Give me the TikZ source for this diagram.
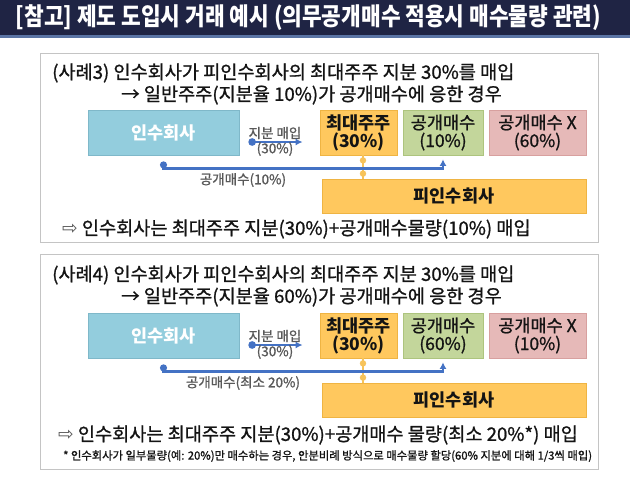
\documentclass[tikz,border=0pt]{standalone}
\usepackage{fontspec}
\setmainfont{Noto Sans CJK KR}
\newfontfamily\medfont{Noto Sans CJK KR}[FakeBold=1.0]
\newfontfamily\symfont{DejaVu Sans}
\usetikzlibrary{arrows.meta}
\definecolor{navy}{HTML}{1F2444}
\definecolor{navyline}{HTML}{5A74A4}
\definecolor{panelline}{HTML}{C4C4C4}
\definecolor{bluefill}{HTML}{93CDDD}
\definecolor{blueedge}{HTML}{7FB8C9}
\definecolor{orfill}{HTML}{FFC85E}
\definecolor{oredge}{HTML}{EFB443}
\definecolor{grfill}{HTML}{C3D69B}
\definecolor{gredge}{HTML}{ADC47E}
\definecolor{pkfill}{HTML}{E6B9B8}
\definecolor{pkedge}{HTML}{D8A09F}
\definecolor{lineblue}{HTML}{4472C4}
\definecolor{lineor}{HTML}{F7C35A}
\definecolor{labelgray}{HTML}{595959}
\definecolor{txt}{HTML}{141414}
\newcommand\fsz[2]{\fontsize{#1pt}{#2pt}\selectfont}
\tikzset{
  box/.style={draw, line width=0.8pt, inner sep=0pt, align=center, text=txt},
  bluebox/.style={box, fill=bluefill, draw=blueedge, text=white, font=\fsz{17.5}{18}\bfseries},
  orbox/.style={box, fill=orfill, draw=oredge, font=\fsz{17.5}{18}\bfseries},
  grbox/.style={box, fill=grfill, draw=gredge, font=\fsz{17.5}{18}\medfont},
  pkbox/.style={box, fill=pkfill, draw=pkedge, font=\fsz{17.5}{18}\medfont},
  panel/.style={draw=panelline, line width=0.8pt},
  headline/.style={text=txt, font=\fsz{18.6}{21}\medfont, inner sep=0pt},
  small/.style={text=labelgray, font=\fsz{13.5}{15}\medfont, inner sep=0pt},
  buyarrow/.style={draw=lineblue, line width=2.6pt, {Circle[length=7.5pt]}-{Latex[length=7pt,width=7pt]}},
  tobline/.style={draw=lineblue, line width=2.2pt, {Circle[length=7pt]}-{Latex[length=6.5pt,width=7pt]}},
  orline/.style={draw=lineor, line width=2.2pt},
  ordot/.style={fill=lineor}
}
\begin{document}
\begin{tikzpicture}[x=1pt,y=-1pt]
\useasboundingbox (0,0) rectangle (630,477);
\fill[white] (0,0) rectangle (630,477);
% title bar
\fill[navy] (0,0) rectangle (630,38);
\fill[navyline] (0,34.5) rectangle (630,38);
\node[text=white, font=\fsz{21.4}{24}\bfseries, inner sep=0pt] (title) at (308.5,18) {\scalebox{1}[1.15]{[참고] 제도 도입시 거래 예시 (의무공개매수 적용시 매수물량 관련)}};

% ---------- panel 1 ----------
\draw[panel] (40,53) rectangle (598,242);
\node[headline, anchor=west] (h1a) at (52,73) {(사례3) 인수회사가 피인수회사의 최대주주 지분 30\%를 매입};
\node[headline, anchor=east] (h1b) at (502,95) {→ 일반주주(지분율 10\%)가 공개매수에 응한 경우};
\node[bluebox, minimum width=151pt, minimum height=45pt] (a1) at (163.5,132.5) {인수회사};
\node[orbox, minimum width=77pt, minimum height=45pt] (b1) at (358.5,132.5) {최대주주\\(30\%)};
\node[grbox, minimum width=80pt, minimum height=45pt] (c1) at (443,132.5) {공개매수\\(10\%)};
\node[pkbox, minimum width=97pt, minimum height=45pt] (d1) at (537.5,132.5) {공개매수 X\\(60\%)};
\node[orbox, minimum width=264pt, minimum height=34pt] (e1) at (454,196) {피인수회사};
\draw[buyarrow] ([xshift=9pt,yshift=-9.5pt]a1.east) -- ([xshift=-17pt,yshift=-9.5pt]b1.west);
\node[small] (l1a) at (275,133) {지분 매입};
\node[small] (l1b) at (275,149) {(30\%)};
\draw[orline] ([xshift=4.5pt]b1.south) -- ([xshift=4.5pt]b1.south |- e1.north);
\fill[ordot] ([xshift=4.5pt,yshift=-5pt]b1.south) circle (3.2pt);
\fill[ordot] ([xshift=4.5pt,yshift=5pt]b1.south |- e1.north) circle (3.2pt);
\draw[tobline] ([yshift=-6pt]a1.south) -- ([yshift=-13pt]a1.south) -| ([yshift=-4pt]c1.south);
\node[small] (l1c) at (243,180) {공개매수(10\%)};
\node[headline, anchor=west] (k1) at (62,229) {{\symfont\color{labelgray}⇨} 인수회사는 최대주주 지분(30\%)+공개매수물량(10\%) 매입};

% ---------- panel 2 ----------
\draw[panel] (40,254) rectangle (598,469);
\node[headline, anchor=west] (h2a) at (52,275) {(사례4) 인수회사가 피인수회사의 최대주주 지분 30\%를 매입};
\node[headline, anchor=east] (h2b) at (502,297) {→ 일반주주(지분율 60\%)가 공개매수에 응한 경우};
\node[bluebox, minimum width=151pt, minimum height=45pt] (a2) at (163.5,335.5) {인수회사};
\node[orbox, minimum width=77pt, minimum height=45pt] (b2) at (358.5,335.5) {최대주주\\(30\%)};
\node[grbox, minimum width=80pt, minimum height=45pt] (c2) at (443,335.5) {공개매수\\(60\%)};
\node[pkbox, minimum width=97pt, minimum height=45pt] (d2) at (537.5,335.5) {공개매수 X\\(10\%)};
\node[orbox, minimum width=264pt, minimum height=34pt] (e2) at (454,400) {피인수회사};
\draw[buyarrow] ([xshift=9pt,yshift=-9.5pt]a2.east) -- ([xshift=-17pt,yshift=-9.5pt]b2.west);
\node[small] (l2a) at (275,336) {지분 매입};
\node[small] (l2b) at (275,352) {(30\%)};
\draw[orline] ([xshift=4.5pt]b2.south) -- ([xshift=4.5pt]b2.south |- e2.north);
\fill[ordot] ([xshift=4.5pt,yshift=-5pt]b2.south) circle (3.2pt);
\fill[ordot] ([xshift=4.5pt,yshift=5pt]b2.south |- e2.north) circle (3.2pt);
\draw[tobline] ([yshift=-6pt]a2.south) -- ([yshift=-13pt]a2.south) -| ([yshift=-4pt]c2.south);
\node[small] (l2c) at (243,383) {공개매수(최소 20\%)};
\node[headline, anchor=west] (k2) at (58,435) {{\symfont\color{labelgray}⇨} 인수회사는 최대주주 지분(30\%)+공개매수 물량(최소 20\%*) 매입};
\node[anchor=west, inner sep=0pt, text=txt, font=\fsz{11.3}{12}\medfont] (fn) at (63,456) {* 인수회사가 일부물량(예: 20\%)만 매수하는 경우, 안분비례 방식으로 매수물량 할당(60\% 지분에 대해 1/3씩 매입)};
\end{tikzpicture}
\end{document}
